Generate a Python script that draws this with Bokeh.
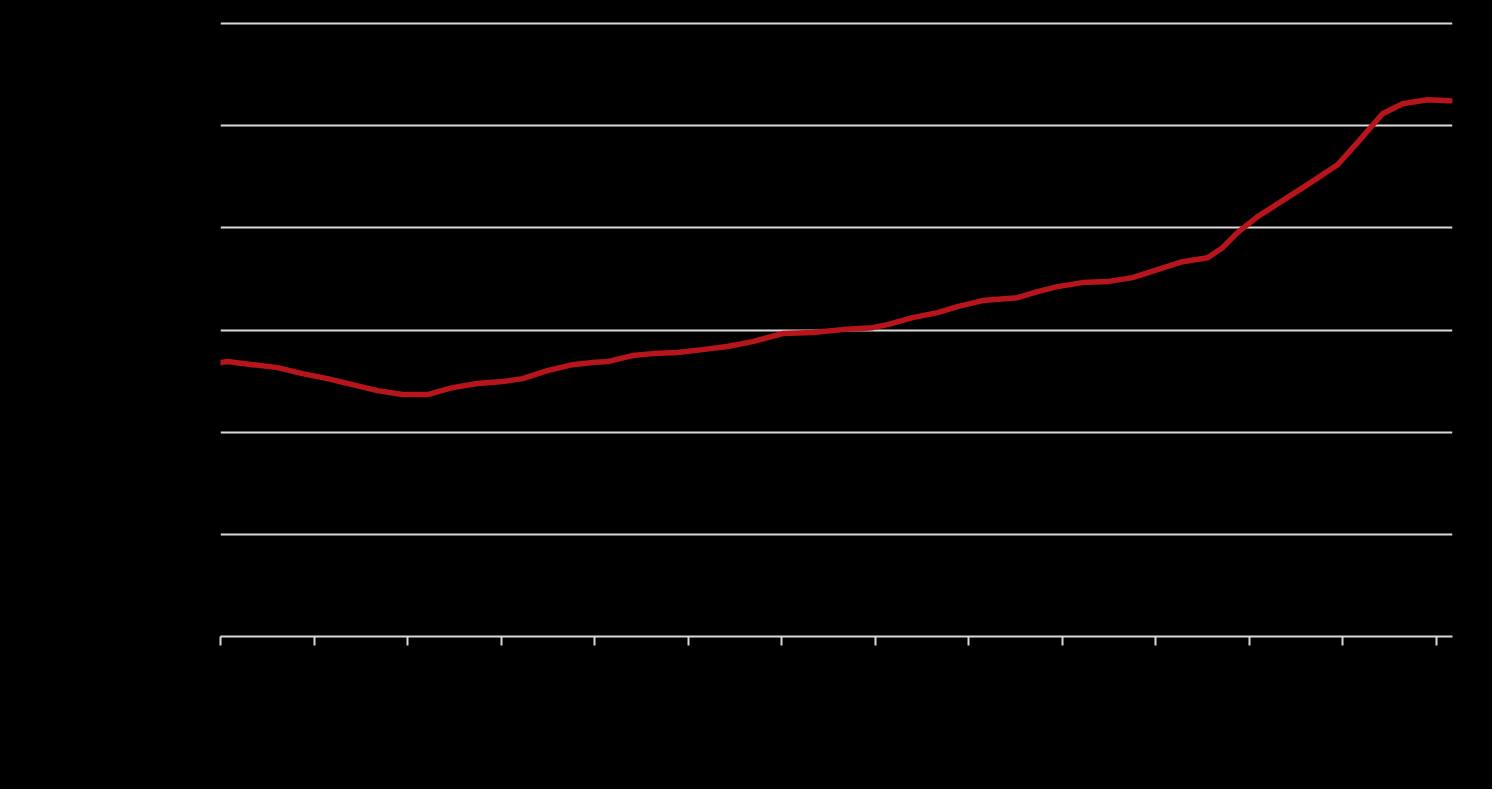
from bokeh.plotting import figure
from bokeh.models import Range1d, FixedTicker
from bokeh.embed import file_html
from bokeh.resources import INLINE

years = [2010.000, 2010.075, 2010.342, 2010.610, 2010.877, 2011.144, 2011.412, 2011.679,
         2011.947, 2012.214, 2012.481, 2012.749, 2013.016, 2013.230, 2013.497, 2013.765,
         2013.979, 2014.139, 2014.406, 2014.620, 2014.888, 2015.155, 2015.422, 2015.690,
         2016.011, 2016.332, 2016.652, 2016.973, 2017.134, 2017.401, 2017.668, 2017.882,
         2018.150, 2018.524, 2018.738, 2018.952, 2019.219, 2019.487, 2019.754, 2020.021,
         2020.289, 2020.556, 2020.717, 2020.877, 2021.091, 2021.358, 2021.626, 2021.947,
         2022.160, 2022.428, 2022.642, 2022.909, 2023.155]
values = [2.681, 2.691, 2.661, 2.632, 2.573, 2.524, 2.466, 2.407,
          2.368, 2.368, 2.436, 2.476, 2.495, 2.524, 2.603, 2.661,
          2.681, 2.691, 2.750, 2.769, 2.779, 2.808, 2.838, 2.886,
          2.965, 2.975, 3.004, 3.023, 3.053, 3.121, 3.170, 3.229,
          3.288, 3.317, 3.376, 3.425, 3.464, 3.474, 3.513, 3.591,
          3.669, 3.708, 3.806, 3.953, 4.110, 4.266, 4.423, 4.618,
          4.834, 5.117, 5.215, 5.254, 5.245]
x_ticks = list(range(2010, 2024))
y_ticks = [0, 1, 2, 3, 4, 5, 6]

p = figure(width=1492, height=789, output_backend="svg", toolbar_location=None,
           x_range=Range1d(2010, 2023.176), y_range=Range1d(0, 6.02),
           min_border_left=220, min_border_right=40, min_border_top=21, min_border_bottom=153)
p.styles = {"background-color": "black"}
p.background_fill_color = "black"
p.border_fill_color = "black"
p.outline_line_color = None

p.line(years, values, line_color="#b8141c", line_width=5.5, line_cap="round", line_join="round")

p.xgrid.grid_line_color = None
p.ygrid.grid_line_color = "#d9d9d9"
p.ygrid.grid_line_width = 2
p.ygrid.ticker = FixedTicker(ticks=y_ticks)

p.xaxis.ticker = FixedTicker(ticks=x_ticks)
p.xaxis.axis_line_color = "#d9d9d9"
p.xaxis.axis_line_width = 2
p.xaxis.major_tick_line_color = "#d9d9d9"
p.xaxis.major_tick_line_width = 2
p.xaxis.major_tick_out = 9
p.xaxis.major_tick_in = 0
p.xaxis.minor_tick_line_color = None
p.xaxis.major_label_text_color = "black"
p.xaxis.major_label_text_font_size = "16px"

p.yaxis.ticker = FixedTicker(ticks=y_ticks)
p.yaxis.axis_line_color = None
p.yaxis.major_tick_line_color = None
p.yaxis.minor_tick_line_color = None
p.yaxis.major_label_text_color = "black"
p.yaxis.major_label_text_font_size = "16px"

open("out.html", "w").write(file_html(p, INLINE))
